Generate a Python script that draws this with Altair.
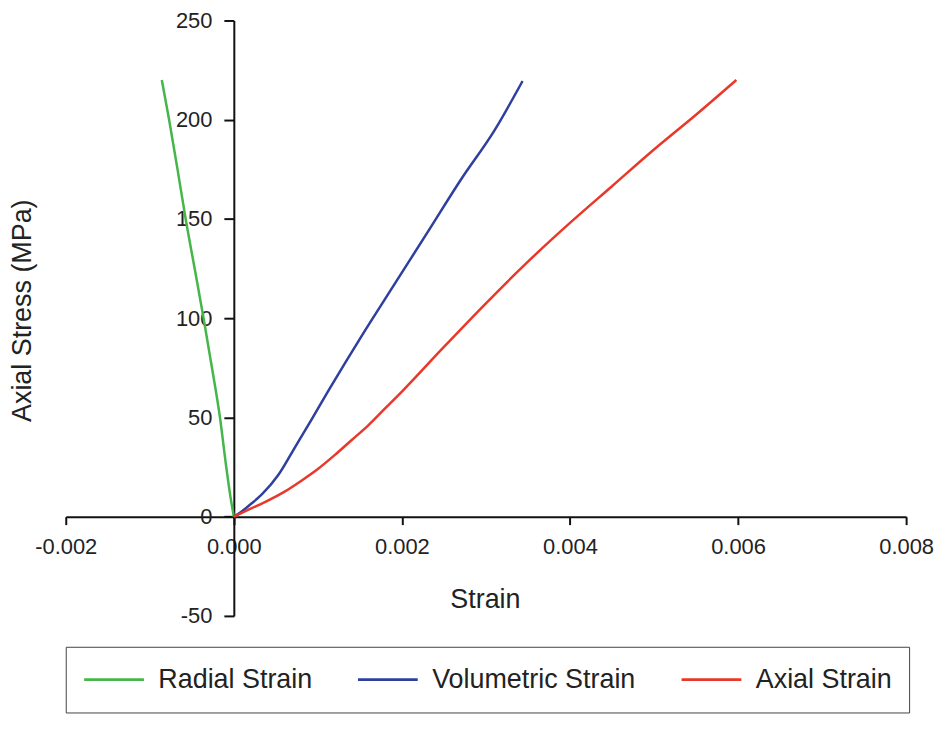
import altair as alt
import pandas as pd

series_names = ["Radial Strain", "Volumetric Strain", "Axial Strain"]
series_colors = ["#45b649", "#2f3f9e", "#e8382a"]

radial_x = [0, -0.00004, -0.00009, -0.000165, -0.00026, -0.00036, -0.000466, -0.000573, -0.00067, -0.00077, -0.000857]
radial_y = [0, 10, 25, 50, 75, 100, 125, 150, 175, 200, 220]

vol_x = [0, 0.00009, 0.000178, 0.000336, 0.000533, 0.000731, 0.000928, 0.001126, 0.00152, 0.001916, 0.00231, 0.002705, 0.0031, 0.003436]
vol_y = [0, 2.5, 5.5, 11.3, 21.2, 35.2, 49.2, 63.5, 91, 117.4, 143.6, 170, 194.5, 219.5]

axial_x = [0, 0.0002, 0.0004, 0.0006, 0.0008, 0.001, 0.0012, 0.0014, 0.0016, 0.0018, 0.002, 0.0025, 0.003, 0.0035, 0.004, 0.0045, 0.005, 0.0055, 0.00598]
axial_y = [0, 4, 8, 12.5, 18, 24, 31, 38.5, 46, 54.5, 63, 85.5, 107.5, 128.5, 148, 166.5, 185, 202.5, 220]

x_ticks = [-0.002, 0.0, 0.002, 0.004, 0.006, 0.008]
y_ticks = [-50, 0, 50, 100, 150, 200, 250]

rows = []
for name, xs, ys in zip(series_names, [radial_x, vol_x, axial_x], [radial_y, vol_y, axial_y]):
    for i, (xv, yv) in enumerate(zip(xs, ys)):
        rows.append({"series": name, "strain": xv, "stress": yv, "idx": i})
df = pd.DataFrame(rows)

W, H = 844, 598
PAD_TOP = 11
FONT = "Liberation Sans"

x_axis = alt.Axis(
    values=x_ticks,
    title="Strain",
    offset=-H / 6,
    grid=False,
    domainColor="#111", domainWidth=2,
    tickColor="#111", tickWidth=2, tickSize=8,
    labelFont=FONT, labelFontSize=22, labelColor="#222", labelPadding=12,
    labelFlush=False, labelOverlap=False,
    labelExpr="datum.value < 0 ? '-' + format(-datum.value, '.3f') : format(datum.value, '.3f')",
    titleFont=FONT, titleFontSize=27, titleFontWeight="normal", titleColor="#222",
    titleX=421, titleY=83, titleBaseline="middle", titleAlign="center",
)

y_axis = alt.Axis(
    values=y_ticks,
    title="Axial Stress (MPa)",
    offset=-0.2 * W,
    grid=False,
    domainColor="#111", domainWidth=2,
    tickColor="#111", tickWidth=2, tickSize=10,
    labelFont=FONT, labelFontSize=22, labelColor="#222", labelPadding=12,
    labelFlush=False, labelOverlap=False,
    labelExpr="datum.value < 0 ? '-' + format(-datum.value, 'd') : format(datum.value, 'd')",
    titleFont=FONT, titleFontSize=27, titleFontWeight="normal", titleColor="#222",
    titleX=-212, titleY=310 - (8 + PAD_TOP), titleAngle=270, titleBaseline="middle", titleAlign="center",
)

legend = alt.Legend(
    title=None,
    orient="none",
    legendX=0,
    legendY=648 - (8 + PAD_TOP),
    direction="horizontal",
    columns=3,
    symbolType="stroke",
    symbolSize=3600,
    symbolStrokeWidth=3,
    labelFont=FONT,
    labelFontSize=27,
    labelColor="#222",
    labelOffset=13,
    labelLimit=400,
    columnPadding=44,
    padding=17,
    clipHeight=32,
    strokeColor="#444",
    fillColor="white",
)

chart = (
    alt.Chart(df)
    .mark_line(strokeWidth=2.5, interpolate="monotone")
    .encode(
        x=alt.X("strain:Q", scale=alt.Scale(domain=[-0.002, 0.008], nice=False, zero=False), axis=x_axis),
        y=alt.Y("stress:Q", scale=alt.Scale(domain=[-50, 250], nice=False, zero=False), axis=y_axis),
        color=alt.Color("series:N", scale=alt.Scale(domain=series_names, range=series_colors), legend=legend),
        order="idx:Q",
    )
    .properties(
        width=W,
        height=H,
        autosize=alt.AutoSizeParams(type="none"),
        padding={"left": 58, "top": PAD_TOP, "right": 28, "bottom": 708 - PAD_TOP - H},
    )
    .configure_view(stroke=None)
)

chart.save("out.html", embed_options={"renderer": "svg", "actions": False})
